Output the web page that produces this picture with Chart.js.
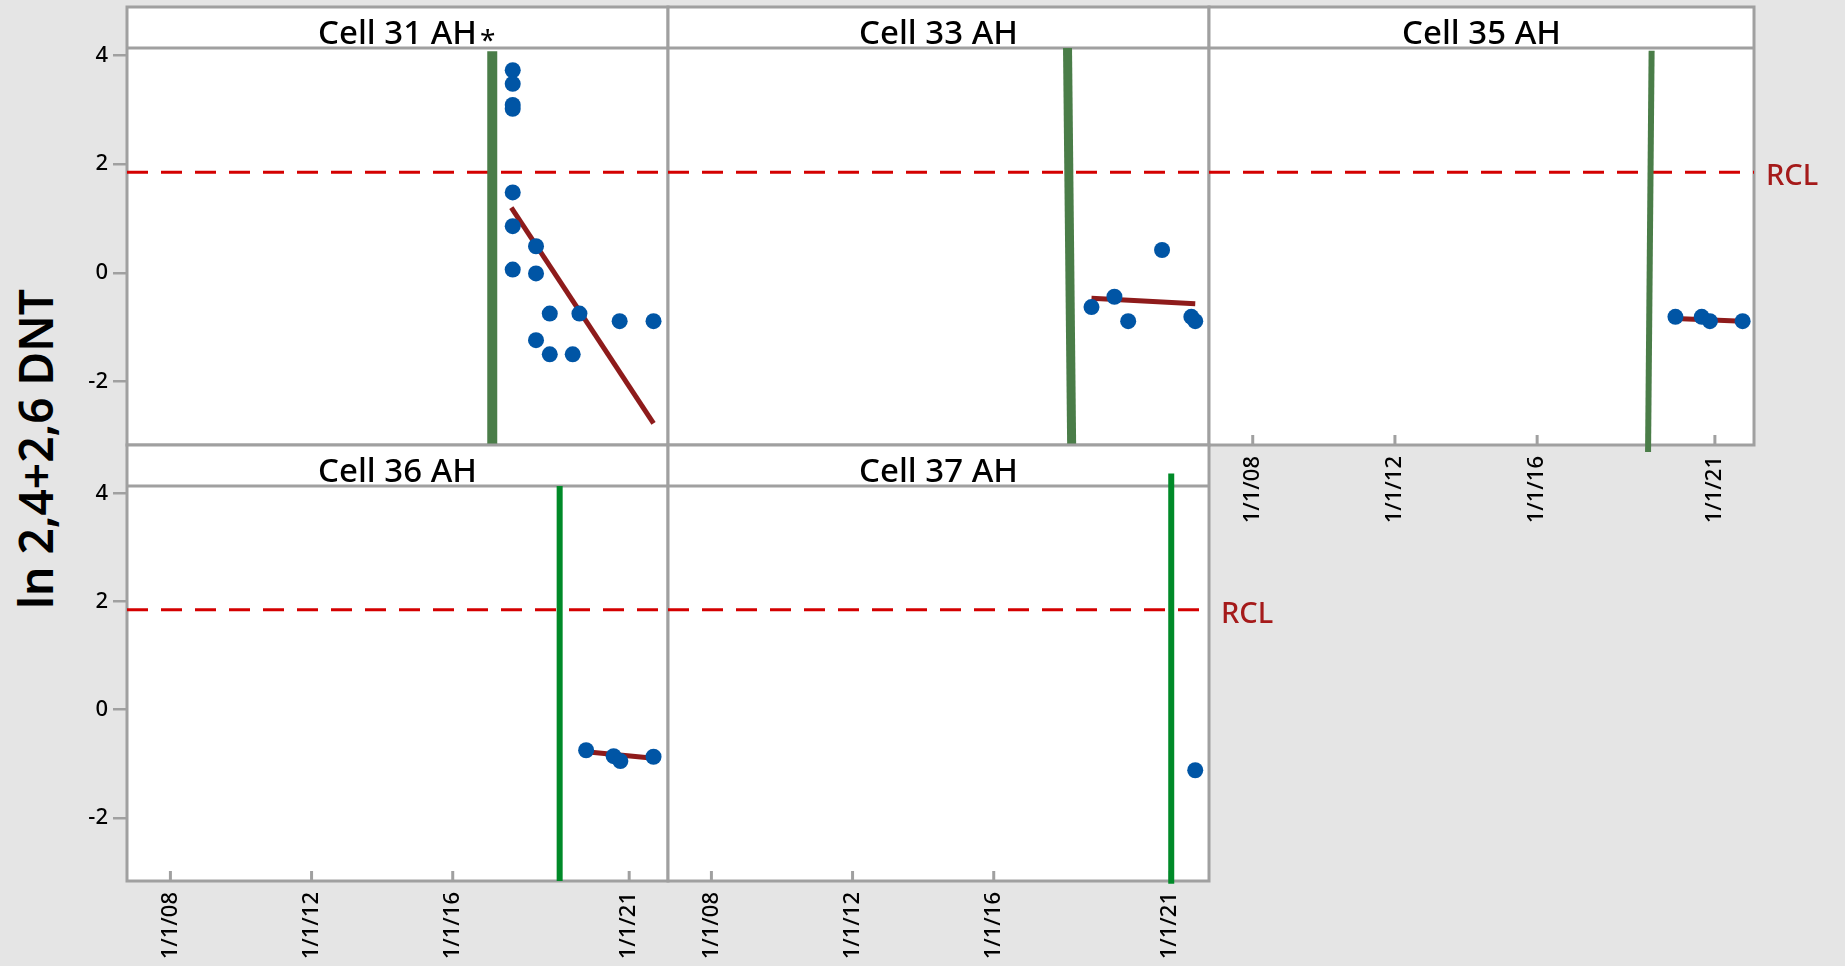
<!DOCTYPE html>
<html>
<head>
<meta charset="utf-8">
<script src="https://cdn.jsdelivr.net/npm/chart.js@4.4.0/dist/chart.umd.min.js"></script>
<style>
  html, body { margin: 0; padding: 0; background: #e5e5e5; overflow: hidden; }
  body { width: 1845px; height: 966px; position: relative; font-family: "Noto Sans", sans-serif; }
  canvas { position: absolute; }
  #ytitle {
    position: absolute; left: 35px; top: 449px;
    transform: translate(-50%, -50%) rotate(-90deg);
    font-size: 46px; font-weight: 600; line-height: 1; white-space: nowrap; color: #000;
  }
</style>
</head>
<body>
<div id="ytitle">ln 2,4+2,6 DNT</div>
<script>
// Values, x in decimal years
var panelTitles = ['Cell 31 AH*', 'Cell 33 AH', 'Cell 35 AH', 'Cell 36 AH', 'Cell 37 AH'];
var xTickYears = [2008, 2012, 2016, 2021];
var yTickValues = [-2, 0, 2, 4];
var xRange = [2006.77, 2022.1];
var yRange = [-3.17, 4.14];
var rclValue = 1.85;

// Cell 31 AH
var cell31X = [2017.70, 2017.70, 2017.70, 2017.70, 2017.70, 2017.70, 2017.70, 2018.36, 2018.36, 2018.36, 2018.75, 2018.75, 2019.40, 2019.59, 2020.73, 2021.69];
var cell31Y = [3.73, 3.48, 3.09, 3.02, 1.48, 0.86, 0.06, 0.49, -0.01, -1.24, -0.75, -1.50, -1.50, -0.75, -0.89, -0.89];
var cell31TrendX = [2017.66, 2021.69];
var cell31TrendY = [1.20, -2.77];
var cell31StartX = [2017.12, 2017.12];
var cell31StartY = [4.08, -3.3];

// Cell 33 AH
var cell33X = [2018.77, 2019.42, 2019.81, 2020.77, 2021.60, 2021.71];
var cell33Y = [-0.63, -0.44, -0.89, 0.42, -0.81, -0.89];
var cell33TrendX = [2018.77, 2021.71];
var cell33TrendY = [-0.47, -0.57];
var cell33StartX = [2018.09, 2018.21];
var cell33StartY = [4.2, -3.3];

// Cell 35 AH
var cell35X = [2019.89, 2020.63, 2020.86, 2021.78];
var cell35Y = [-0.81, -0.81, -0.89, -0.89];
var cell35TrendX = [2019.89, 2021.78];
var cell35TrendY = [-0.84, -0.89];
var cell35StartX = [2019.22, 2019.12];
var cell35StartY = [4.09, -3.30];

// Cell 36 AH
var cell36X = [2019.78, 2020.56, 2020.75, 2021.69];
var cell36Y = [-0.75, -0.86, -0.95, -0.87];
var cell36TrendX = [2019.78, 2021.69];
var cell36TrendY = [-0.78, -0.90];
var cell36StartX = [2019.03, 2019.03];
var cell36StartY = [4.2, -3.2];

// Cell 37 AH
var cell37X = [2021.71];
var cell37Y = [-1.12];
var cell37TrendX = [];
var cell37TrendY = [];
var cell37StartX = [2021.03, 2021.03];
var cell37StartY = [4.37, -3.22];

// layout of the panel grid (page pixels)
var colLeft = [127, 668, 1209];
var colRight = [668, 1209, 1754];
var rowTop = [7, 445];
var rowPlotTop = [48, 486];
var rowPlotBottom = [445, 881];

function pts(xs, ys) {
    return xs.map(function (x, i) { return {x: x, y: ys[i]}; });
}

var panels = [
    {col: 0, row: 0, x: cell31X, y: cell31Y, tx: cell31TrendX, ty: cell31TrendY, sx: cell31StartX, sy: cell31StartY,
     green: '#4a7d48', greenW: 10, clip: undefined, showX: false, showY: true, rcl: false},
    {col: 1, row: 0, x: cell33X, y: cell33Y, tx: cell33TrendX, ty: cell33TrendY, sx: cell33StartX, sy: cell33StartY,
     green: '#4a7d48', greenW: 9, clip: undefined, showX: false, showY: false, rcl: false},
    {col: 2, row: 0, x: cell35X, y: cell35Y, tx: cell35TrendX, ty: cell35TrendY, sx: cell35StartX, sy: cell35StartY,
     green: '#4a7d48', greenW: 6, clip: false, showX: true, showY: false, rcl: true},
    {col: 0, row: 1, x: cell36X, y: cell36Y, tx: cell36TrendX, ty: cell36TrendY, sx: cell36StartX, sy: cell36StartY,
     green: '#008a28', greenW: 6, clip: undefined, showX: true, showY: true, rcl: false},
    {col: 1, row: 1, x: cell37X, y: cell37Y, tx: cell37TrendX, ty: cell37TrendY, sx: cell37StartX, sy: cell37StartY,
     green: '#008a28', greenW: 6, clip: false, showX: true, showY: false, rcl: true}
];

var borderGray = '#a0a0a0';
var tickFont = {family: 'Noto Sans', size: 22, weight: '500'};

// white plot, header strip with the title, frame, inner x ticks, RCL label
var panelPlugin = {
    id: 'panel',
    beforeDraw: function (chart, args, opts) {
        var a = chart.chartArea, ctx = chart.ctx;
        ctx.save();
        ctx.fillStyle = '#ffffff';
        ctx.fillRect(a.left, a.top - opts.headerH, a.right - a.left, a.bottom - a.top + opts.headerH);
        ctx.restore();
    },
    beforeDatasetsDraw: function (chart, args, opts) {
        var a = chart.chartArea, ctx = chart.ctx;
        ctx.save();
        ctx.strokeStyle = borderGray;
        ctx.lineWidth = 3;
        ctx.strokeRect(a.left, a.top - opts.headerH, a.right - a.left, a.bottom - a.top + opts.headerH);
        ctx.beginPath();
        ctx.moveTo(a.left, a.top);
        ctx.lineTo(a.right, a.top);
        ctx.stroke();

        if (opts.showX) {
            var xs = chart.scales.x;
            ctx.lineWidth = 3;
            xs.ticks.forEach(function (t) {
                var px = xs.getPixelForValue(t.value);
                ctx.beginPath();
                ctx.moveTo(px, a.bottom);
                ctx.lineTo(px, a.bottom - 10);
                ctx.stroke();
            });
        }

        var title = opts.title, star = title.charAt(title.length - 1) === '*';
        if (star) title = title.slice(0, -1);
        var cx = (a.left + a.right) / 2, by = a.top - 4;
        ctx.fillStyle = '#000';
        ctx.font = '500 33px "Noto Sans"';
        ctx.textAlign = 'center';
        ctx.textBaseline = 'alphabetic';
        ctx.fillText(title, cx, by);
        if (star) {
            var w = ctx.measureText(title).width;
            ctx.textAlign = 'left';
            ctx.font = '28px "Noto Sans"';
            ctx.fillText('*', cx + w / 2 + 3, by + 6);
        }
        ctx.restore();
    },
    afterDraw: function (chart, args, opts) {
        if (!opts.rcl) return;
        var a = chart.chartArea, ctx = chart.ctx;
        var py = chart.scales.y.getPixelForValue(rclValue);
        ctx.save();
        ctx.fillStyle = '#a51a1a';
        ctx.font = '500 29px "Noto Sans"';
        ctx.textAlign = 'left';
        ctx.textBaseline = 'alphabetic';
        ctx.fillText('RCL', a.right + 12, py + 13);
        ctx.restore();
    }
};

panels.forEach(function (p, i) {
    var left = colLeft[p.col] - 60;
    var top = rowTop[p.row] - 6;
    var cv = document.createElement('canvas');
    cv.width = colRight[p.col] - colLeft[p.col] + 60 + 90;
    cv.height = rowPlotBottom[p.row] - rowTop[p.row] + 6 + 80;
    cv.style.left = left + 'px';
    cv.style.top = top + 'px';
    document.body.appendChild(cv);

    new Chart(cv, {
        type: 'scatter',
        data: {
            datasets: [
                {
                    data: pts(p.x, p.y),
                    pointRadius: 8,
                    pointBackgroundColor: '#0055a5',
                    pointBorderWidth: 0,
                    showLine: false
                },
                {
                    data: pts(p.tx, p.ty),
                    showLine: true,
                    borderColor: '#8e1b1b',
                    borderWidth: 5,
                    pointRadius: 0
                },
                {
                    data: pts(p.sx, p.sy),
                    showLine: true,
                    borderColor: p.green,
                    borderWidth: p.greenW,
                    pointRadius: 0,
                    clip: p.clip
                },
                {
                    data: pts(xRange, [rclValue, rclValue]),
                    showLine: true,
                    borderColor: '#d40000',
                    borderWidth: 3,
                    borderDash: [21, 13],
                    pointRadius: 0
                }
            ]
        },
        options: {
            responsive: false,
            animation: false,
            devicePixelRatio: 1,
            layout: {padding: {top: rowPlotTop[p.row] - rowTop[p.row] + 6, right: 90, left: 0, bottom: 0}},
            plugins: {
                legend: {display: false},
                tooltip: {enabled: false},
                panel: {
                    title: panelTitles[i],
                    headerH: rowPlotTop[p.row] - rowTop[p.row],
                    showX: p.showX,
                    rcl: p.rcl
                }
            },
            scales: {
                x: {
                    type: 'linear',
                    min: xRange[0],
                    max: xRange[1],
                    afterBuildTicks: function (s) {
                        s.ticks = xTickYears.map(function (v) { return {value: v}; });
                    },
                    afterFit: function (s) { s.height = 80; },
                    border: {display: false},
                    grid: {display: false, drawTicks: false},
                    ticks: {
                        display: p.showX,
                        autoSkip: false,
                        minRotation: 90,
                        maxRotation: 90,
                        padding: 11,
                        color: '#000',
                        font: tickFont,
                        callback: function (v) { return '1/1/' + String(v).slice(2); }
                    }
                },
                y: {
                    type: 'linear',
                    min: yRange[0],
                    max: yRange[1],
                    afterBuildTicks: function (s) {
                        s.ticks = yTickValues.map(function (v) { return {value: v}; });
                    },
                    afterFit: function (s) { s.width = 60; },
                    border: {display: false},
                    grid: {display: p.showY, drawOnChartArea: false, color: borderGray, lineWidth: 2.5, tickLength: 14},
                    ticks: {display: p.showY, color: '#000', font: tickFont, padding: 5}
                }
            }
        },
        plugins: [panelPlugin]
    });
});
</script>
</body>
</html>
